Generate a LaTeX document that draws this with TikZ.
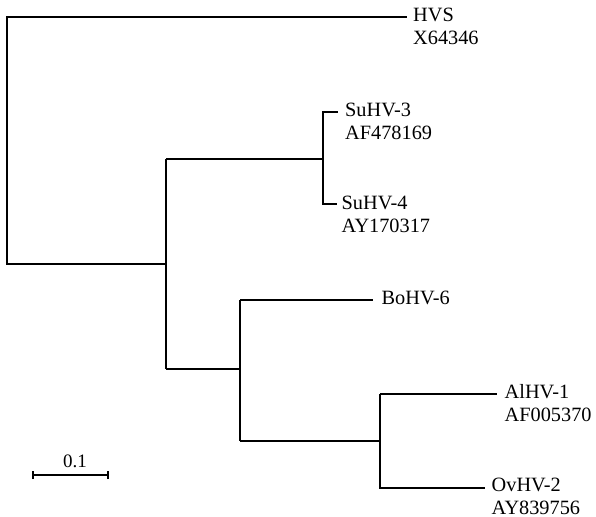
\documentclass[tikz,border=0pt]{standalone}
\usepackage{fontspec}
\setmainfont{Liberation Serif}
\begin{document}
\begin{tikzpicture}[x=1bp,y=-1bp,
  branch/.style={line width=2bp, line join=miter, line cap=butt},
  leaflabel/.style={anchor=base west, inner sep=0pt, font=\fontsize{20.3bp}{23.5bp}\selectfont},
  scalelabel/.style={anchor=base, inner sep=0pt, font=\fontsize{19bp}{23bp}\selectfont}]
\useasboundingbox (0,0) rectangle (596,517);
% internal nodes
\coordinate (root) at (7,264);
\coordinate (A) at (166,264);
\coordinate (B) at (322.5,159);
\coordinate (C) at (240,369);
\coordinate (D) at (380,441);
% tips
\coordinate (tHVS) at (406.5,17.5);
\coordinate (tSu3) at (338,111.7);
\coordinate (tSu4) at (336.5,204);
\coordinate (tBo) at (373,299.5);
\coordinate (tAl) at (497,393.5);
\coordinate (tOv) at (485,488);
% labels
\node[leaflabel] (lHVS) at (413,21.5) {HVS};
\node[leaflabel] (aHVS) at (413,45) {X64346};
\node[leaflabel] (lSu3) at (345,116.5) {SuHV-3};
\node[leaflabel] (aSu3) at (345,140) {AF478169};
\node[leaflabel] (lSu4) at (341.5,209.5) {SuHV-4};
\node[leaflabel] (aSu4) at (341.5,233) {AY170317};
\node[leaflabel] (lBo) at (381.5,304) {BoHV-6};
\node[leaflabel] (lAl) at (504.5,398) {AlHV-1};
\node[leaflabel] (aAl) at (504.5,421.5) {AF005370};
\node[leaflabel] (lOv) at (491.5,491) {OvHV-2};
\node[leaflabel] (aOv) at (491.5,514) {AY839756};
% tree
\draw[branch] (tHVS) -| (root) -- (A);
\draw[branch] (B) |- (tSu3);
\draw[branch] (B) |- (tSu4);
\draw[branch] (A |- B) -- (B);
\draw[branch] (A |- B) -- (A |- C);
\draw[branch] (A |- C) -- (C);
\draw[branch] (C |- tBo) -- (tBo);
\draw[branch] (C |- tBo) -- (C |- D);
\draw[branch] (C |- D) -- (D);
\draw[branch] (D |- tAl) -- (tAl);
\draw[branch] (D |- tAl) -- (D |- tOv) -- (tOv);
% scale bar
\coordinate (s1) at (33,475);
\coordinate (s2) at (108,475);
\draw[branch] (s1) -- (s2);
\draw[line width=2bp] ([yshift=-4bp]s1) -- ([yshift=4bp]s1);
\draw[line width=2bp] ([yshift=-4bp]s2) -- ([yshift=4bp]s2);
\node[scalelabel] (sl) at (75,467) {0.1};
\end{tikzpicture}
\end{document}
